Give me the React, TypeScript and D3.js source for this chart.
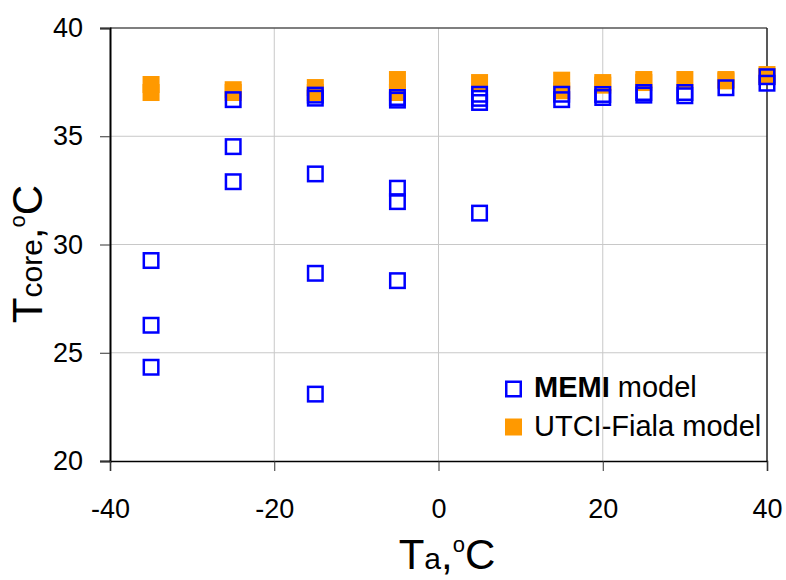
import { useEffect, useRef } from 'react'
import * as d3 from 'd3'

// Ta (°C) vs Tcore (°C)
const memiPoints: [number, number][] = [
  [-35, 29.26], [-35, 26.27], [-35, 24.33],
  [-25, 36.69], [-25, 34.52], [-25, 32.9],
  [-15, 36.9], [-15, 36.76], [-15, 33.26], [-15, 28.67], [-15, 23.09],
  [-5, 36.79], [-5, 36.67], [-5, 32.6], [-5, 31.98], [-5, 28.33],
  [5, 36.94], [5, 36.75], [5, 36.56], [5, 31.45],
  [15, 36.94], [15, 36.69],
  [20, 36.93], [20, 36.79],
  [25, 37.02], [25, 36.9],
  [30, 37.02], [30, 36.87],
  [35, 37.24],
  [40, 37.75], [40, 37.45],
]

const utciPoints: [number, number][] = [
  [-35, 37.39], [-35, 37.02],
  [-25, 37.15], [-25, 37.02],
  [-15, 37.25], [-15, 37.02],
  [-5, 37.62], [-5, 37.02],
  [5, 37.48],
  [15, 37.59], [15, 37.1],
  [20, 37.48], [20, 37.36],
  [25, 37.62], [25, 37.48],
  [30, 37.62],
  [35, 37.62], [35, 37.56],
  [40, 37.85], [40, 37.76],
]

const xTicks = [-40, -20, 0, 20, 40]
const yTicks = [20, 25, 30, 35, 40]

const FONT = '"Liberation Sans", Arial, sans-serif'
const BLUE = '#0000ff'
const ORANGE = '#ff9900'

export default function App() {
  const svgRef = useRef<SVGSVGElement>(null)

  useEffect(() => {
    if (!svgRef.current) return
    const width = 786
    const height = 580
    const margin = { top: 28, right: 19, bottom: 119, left: 110 }

    const svg = d3.select(svgRef.current)
    svg.selectAll('*').remove()

    const x = d3.scaleLinear().domain([-40, 40]).range([margin.left, width - margin.right])
    const y = d3.scaleLinear().domain([20, 40]).range([height - margin.bottom, margin.top])

    // grid
    const grid = svg.append('g')
    xTicks.slice(1, -1).forEach(t => {
      grid.append('line')
        .attr('x1', x(t)).attr('x2', x(t))
        .attr('y1', y(40)).attr('y2', y(20))
        .attr('stroke', '#c8c8c8').attr('stroke-width', 1)
    })
    yTicks.slice(1, -1).forEach(t => {
      grid.append('line')
        .attr('x1', x(-40)).attr('x2', x(40))
        .attr('y1', y(t)).attr('y2', y(t))
        .attr('stroke', '#c8c8c8').attr('stroke-width', 1)
    })

    // frame top + right
    svg.append('line')
      .attr('x1', x(-40)).attr('x2', x(40))
      .attr('y1', y(40)).attr('y2', y(40))
      .attr('stroke', '#555').attr('stroke-width', 1.5)
    svg.append('line')
      .attr('x1', x(40)).attr('x2', x(40))
      .attr('y1', y(40)).attr('y2', y(20))
      .attr('stroke', '#222').attr('stroke-width', 1.5)

    // axes
    const yAxis = d3.axisLeft(y).tickValues(yTicks).tickSize(10).tickPadding(17)
      .tickFormat(d => String(d))
    const gy = svg.append('g')
      .attr('transform', `translate(${x(-40)},0)`)
      .call(yAxis)
    gy.select('.domain').attr('stroke', '#000').attr('stroke-width', 2)
    gy.selectAll('.tick line').attr('stroke', '#333').attr('stroke-width', 1)
    gy.selectAll('.tick text')
      .attr('fill', '#000')
      .style('font-family', FONT).style('font-size', '27px')

    const xAxis = d3.axisBottom(x).tickValues(xTicks).tickSize(10).tickPadding(28)
      .tickFormat(d => String(d))
    const gx = svg.append('g')
      .attr('transform', `translate(0,${y(20)})`)
      .call(xAxis)
    gx.select('.domain').attr('stroke', '#000').attr('stroke-width', 1.5)
    gx.selectAll('.tick line').attr('stroke', '#333').attr('stroke-width', 1)
    gx.selectAll('.tick text')
      .attr('fill', '#000')
      .style('font-family', FONT).style('font-size', '27px')

    // orange filled squares first, blue open squares on top
    const s = 17
    svg.append('g').selectAll('rect')
      .data(utciPoints)
      .join('rect')
      .attr('x', d => x(d[0]) - s / 2).attr('y', d => y(d[1]) - s / 2)
      .attr('width', s).attr('height', s)
      .attr('fill', ORANGE)

    const b = 14.5
    svg.append('g').selectAll('rect')
      .data(memiPoints)
      .join('rect')
      .attr('x', d => x(d[0]) - b / 2).attr('y', d => y(d[1]) - b / 2)
      .attr('width', b).attr('height', b)
      .attr('fill', 'none').attr('stroke', BLUE).attr('stroke-width', 2.5)

    // legend
    const lg = svg.append('g').style('font-family', FONT).style('font-size', '29px')
    lg.append('rect')
      .attr('x', 513.5 - b / 2).attr('y', 389 - b / 2)
      .attr('width', b).attr('height', b)
      .attr('fill', 'none').attr('stroke', BLUE).attr('stroke-width', 2.5)
    const t1 = lg.append('text').attr('x', 534).attr('y', 397)
    t1.append('tspan').attr('font-weight', 'bold').text('MEMI')
    t1.append('tspan').text(' model')
    lg.append('rect')
      .attr('x', 513.5 - s / 2).attr('y', 427 - s / 2)
      .attr('width', s).attr('height', s)
      .attr('fill', ORANGE)
    lg.append('text').attr('x', 534).attr('y', 436).text('UTCI-Fiala model')

    // x title
    const xt = svg.append('text')
      .attr('x', 447).attr('y', 569)
      .attr('text-anchor', 'middle')
      .style('font-family', FONT).style('font-size', '42px')
    xt.append('tspan').text('T')
    xt.append('tspan').style('font-size', '30px').text('a')
    xt.append('tspan').text(',')
    xt.append('tspan').style('font-size', '22px').attr('dy', -17).text('o')
    xt.append('tspan').attr('dy', 17).text('C')

    // y title
    const yt = svg.append('text')
      .attr('transform', 'translate(42,254) rotate(-90)')
      .attr('text-anchor', 'middle')
      .style('font-family', FONT).style('font-size', '42px')
    yt.append('tspan').text('T')
    yt.append('tspan').style('font-size', '30px').text('core')
    yt.append('tspan').text(',')
    yt.append('tspan').style('font-size', '22px').attr('dy', -17).text('o')
    yt.append('tspan').attr('dy', 17).text('C')
  }, [])

  return (
    <svg
      ref={svgRef}
      width={786}
      height={580}
      style={{ position: 'fixed', left: 0, top: 0, background: '#fff' }}
    />
  )
}
